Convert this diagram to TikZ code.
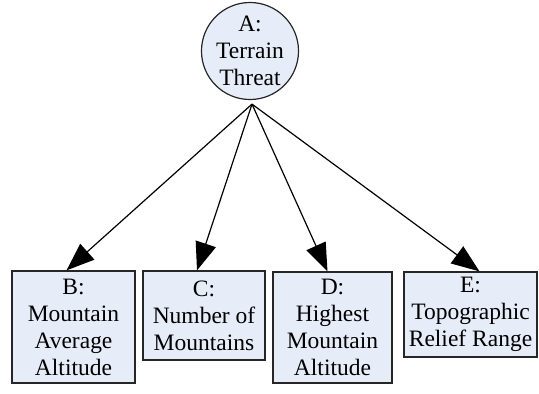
\documentclass[tikz,border=0pt]{standalone}
\usepackage{fontspec}
\setmainfont{Liberation Serif}
\usetikzlibrary{arrows.meta}
\definecolor{boxfill}{RGB}{230,236,248}
\begin{document}
\begin{tikzpicture}[x=1pt,y=-1pt,
  every node/.style={font=\fontsize{23.5}{27}\selectfont, align=center, inner sep=0pt},
  factor/.style={draw=black!85, line width=1.2pt, fill=boxfill, rectangle},
  goal/.style={draw=black!85, line width=1.2pt, fill=boxfill, circle, minimum size=95pt},
  link/.style={line width=1.2pt, -{Triangle[length=28pt,width=21pt]}}]
\useasboundingbox (0,0) rectangle (539,394);
\node[goal] (A) at (250,51) {A:\\Terrain\\Threat};
\coordinate (hub) at ([xshift=2pt,yshift=-4pt]A.south);
\node[factor, minimum width=123pt, minimum height=112pt] (B) at (73.5,327) {B:\\Mountain\\Average\\Altitude};
\node[factor, minimum width=122pt, minimum height=89pt] (C) at (204,315.5) {C:\\Number of\\Mountains};
\node[factor, minimum width=119pt, minimum height=111pt] (D) at (332.5,327.5) {D:\\Highest\\Mountain\\Altitude};
\node[factor, minimum width=133pt, minimum height=85pt] (E) at (470.5,314.5) {E:\\Topographic\\Relief Range};
\draw[link] (hub) -- ([xshift=-7pt]B.north);
\draw[link] (hub) -- ([xshift=-7pt]C.north);
\draw[link] (hub) -- ([xshift=-5pt]D.north);
\draw[link] (hub) -- ([xshift=9pt]E.north);
\end{tikzpicture}
\end{document}
